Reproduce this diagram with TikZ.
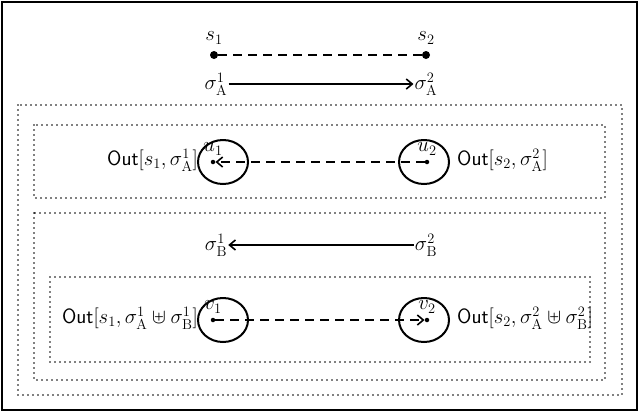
\documentclass[tikz,border=0pt]{standalone}
\usepackage{amssymb}
\usetikzlibrary{arrows.meta,shapes.geometric}
\begin{document}
\begin{tikzpicture}[x=1pt,y=-1pt,
  dbox/.style={draw,line width=1.8pt,dash pattern=on 0pt off 5pt,line cap=round},
  dotn/.style={circle,fill,inner sep=0pt,minimum size=8pt},
  sdot/.style={circle,fill,inner sep=0pt,minimum size=4.5pt},
  ell/.style={draw,line width=2pt,ellipse,minimum width=50pt,minimum height=44pt,inner sep=0pt},
  lbl/.style={font=\huge,inner sep=1pt},
  arr/.style={-{Straight Barb[length=6pt,width=10pt]},line width=1.6pt},
  dsh/.style={dash pattern=on 9pt off 6pt,line width=1.8pt}]
\useasboundingbox (0,0) rectangle (640,413);
\draw[line width=1.6pt] (2,2) rectangle (637,410);
\draw[dbox] (18,105) rectangle (622,395);
\draw[dbox] (34,125) rectangle (605,198);
\draw[dbox] (34,213) rectangle (605,380);
\draw[dbox] (50,277) rectangle (590,362);
% top
\node[dotn] (s1) at (214,55) {};
\node[dotn] (s2) at (426,55) {};
\node[lbl] at (214,38) {$s_1$};
\node[lbl] at (426,38) {$s_2$};
\draw[dsh] (s1) -- (s2);
\node[lbl] (a1) at (216,84) {$\sigma^1_{\mathrm{A}}$};
\node[lbl] (a2) at (426,84) {$\sigma^2_{\mathrm{A}}$};
\draw[arr] (a1) -- (a2);
% u
\node[ell] (eu1) at (223,162) {};
\node[ell] (eu2) at (424,162) {};
\node[sdot] (u1) at (213,162) {};
\node[sdot] (u2) at (427,162) {};
\node[lbl] at (213,149) {$u_1$};
\node[lbl] at (427,149) {$u_2$};
\draw[dsh,arr] (u2) -- (u1);
\node[lbl,anchor=east] at (199,160) {$\mathsf{Out}[s_1,\sigma^1_{\mathrm{A}}]$};
\node[lbl,anchor=west] at (456,160) {$\mathsf{Out}[s_2,\sigma^2_{\mathrm{A}}]$};
% B
\node[lbl] (b1) at (216,245) {$\sigma^1_{\mathrm{B}}$};
\node[lbl] (b2) at (426,245) {$\sigma^2_{\mathrm{B}}$};
\draw[arr] (b2) -- (b1);
% v
\node[ell] (ev1) at (223,320) {};
\node[ell] (ev2) at (424,320) {};
\node[sdot] (v1) at (213,320) {};
\node[sdot] (v2) at (427,320) {};
\node[lbl] at (213,307) {$v_1$};
\node[lbl] at (427,307) {$v_2$};
\draw[dsh,arr] (v1) -- (v2);
\node[lbl,anchor=east] at (199,318) {$\mathsf{Out}[s_1,\sigma^1_{\mathrm{A}}\uplus\sigma^1_{\mathrm{B}}]$};
\node[lbl,anchor=west] at (456,318) {$\mathsf{Out}[s_2,\sigma^2_{\mathrm{A}}\uplus\sigma^2_{\mathrm{B}}]$};
\end{tikzpicture}
\end{document}
